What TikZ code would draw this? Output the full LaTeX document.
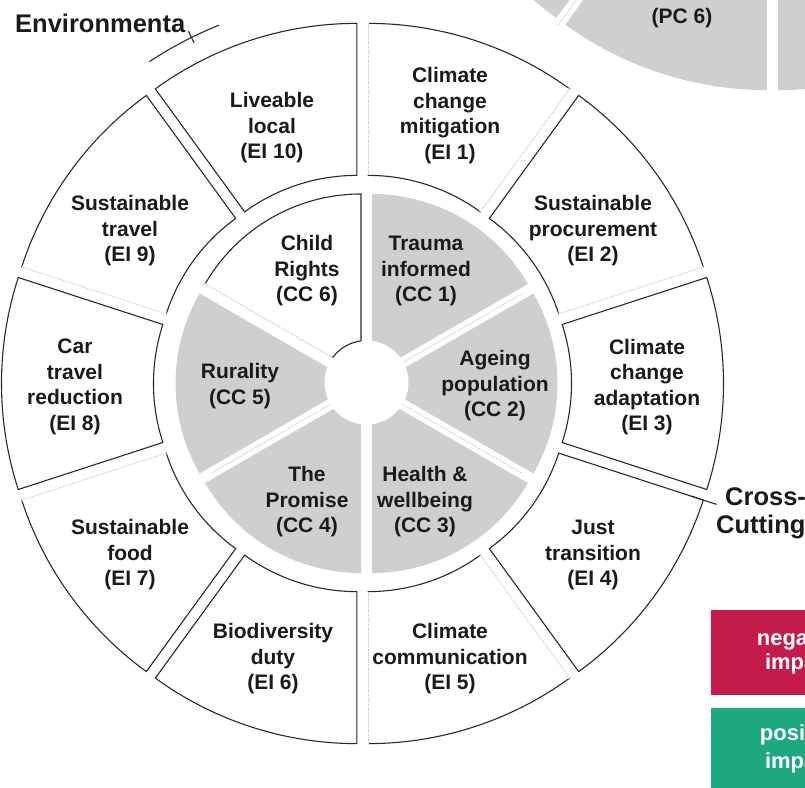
\documentclass[tikz,border=0pt]{standalone}
\usepackage{fontspec}
\setmainfont{Liberation Sans}
\definecolor{seggray}{HTML}{CFCFCF}
\definecolor{edgedark}{HTML}{2A2A2A}
\definecolor{txtdark}{HTML}{1A1A1A}
\definecolor{faintgray}{HTML}{C4C4C4}
\definecolor{negred}{HTML}{C51B4B}
\definecolor{posgreen}{HTML}{1EA880}
% annular sector: #1 options, #2 start angle, #3 end angle, #4 inner r, #5 outer r, #6 explode shift, #7 centre
\newcommand{\annsec}[7]{%
  \pgfmathsetmacro{\mybis}{(#2+#3)/2}%
  \path[#1, shift={(#7)}, shift={(\mybis:#6pt)}] (#2:#4pt) -- (#2:#5pt)
    arc[start angle=#2, end angle=#3, radius=#5pt] -- (#3:#4pt)
    arc[start angle=#3, end angle=#2, radius=#4pt] -- cycle;}
% radial edge: #1 options, #2 angle, #3 bisector, #4 r1, #5 r2, #6 shift, #7 centre
\newcommand{\radedge}[7]{%
  \draw[#1, shift={(#7)}, shift={(#3:#6pt)}] (#2:#4pt) -- (#2:#5pt);}
\tikzset{
  outerseg/.style={fill=white, draw=edgedark, line width=1.1pt},
  grayseg/.style={fill=seggray},
  faintedge/.style={draw=faintgray, line width=0.7pt, dash pattern=on 1.5pt off 1pt},
  eraseedge/.style={draw=white, line width=2.6pt},
  darkedge/.style={draw=edgedark, line width=1.1pt},
  lbl/.style={text=txtdark, font=\bfseries\fontsize{21}{25.5}\selectfont, align=center, inner sep=0pt},
  catlbl/.style={text=txtdark, font=\bfseries\fontsize{25.5}{28}\selectfont, inner sep=0pt},
  boxtxt/.style={text=white, font=\bfseries\fontsize{22}{24}\selectfont, inner sep=0pt},
}
\begin{document}
\begin{tikzpicture}[x=1pt, y=1pt]
\useasboundingbox (-362.5,-403.5) rectangle (442.5,383.5);
\clip (-362.5,-403.5) rectangle (442.5,383.5);
% --- partial ring at top right (PC sectors)
\annsec{grayseg}{198}{234}{191}{343}{18}{410,653.5}
\annsec{grayseg}{234}{270}{191}{343}{18}{410,653.5}
\annsec{grayseg}{270}{306}{191}{343}{18}{410,653.5}
\radedge{faintedge}{234}{0}{191}{365}{0}{410,653.5}
\node[lbl, anchor=base] (pc6) at (319.5,359.5) {(PC 6)};
% --- outer ring (EI)
\annsec{outerseg}{90}{54}{191}{343}{18}{0,0}
\annsec{outerseg}{54}{18}{191}{343}{18}{0,0}
\annsec{outerseg}{18}{-18}{191}{343}{18}{0,0}
\annsec{outerseg}{-18}{-54}{191}{343}{18}{0,0}
\annsec{outerseg}{-54}{-90}{191}{343}{18}{0,0}
\annsec{outerseg}{-90}{-126}{191}{343}{18}{0,0}
\annsec{outerseg}{-126}{-162}{191}{343}{18}{0,0}
\annsec{outerseg}{-162}{-198}{191}{343}{18}{0,0}
\annsec{outerseg}{162}{126}{191}{343}{18}{0,0}
\annsec{outerseg}{126}{90}{191}{343}{18}{0,0}
% faint edges
\radedge{eraseedge}{90}{72}{191}{343}{18}{0,0}
\radedge{faintedge}{90}{72}{191}{343}{18}{0,0}
\radedge{eraseedge}{54}{72}{191}{343}{18}{0,0}
\radedge{faintedge}{54}{72}{191}{343}{18}{0,0}
\radedge{eraseedge}{18}{36}{191}{343}{18}{0,0}
\radedge{faintedge}{18}{36}{191}{343}{18}{0,0}
\radedge{eraseedge}{-54}{-72}{191}{343}{18}{0,0}
\radedge{faintedge}{-54}{-72}{191}{343}{18}{0,0}
\radedge{eraseedge}{-90}{-72}{191}{343}{18}{0,0}
\radedge{faintedge}{-90}{-72}{191}{343}{18}{0,0}
\radedge{eraseedge}{-162}{-144}{191}{343}{18}{0,0}
\radedge{faintedge}{-162}{-144}{191}{343}{18}{0,0}
\radedge{eraseedge}{162}{144}{191}{343}{18}{0,0}
\radedge{faintedge}{162}{144}{191}{343}{18}{0,0}
% leader ticks
\radedge{darkedge}{-18}{-36}{330}{357}{18}{0,0}
\draw[darkedge] (123.5:386pt) arc[start angle=123.5, end angle=111.8, radius=386pt];
\draw[darkedge] (116.3:393pt) -- (116.3:380pt);
% --- inner ring (CC)
\annsec{grayseg}{90}{30}{1}{180}{11}{4,0}
\annsec{grayseg}{30}{-30}{1}{180}{11}{4,0}
\annsec{grayseg}{-30}{-90}{1}{180}{11}{4,0}
\annsec{grayseg}{-90}{-150}{1}{180}{11}{4,0}
\annsec{grayseg}{210}{150}{1}{180}{11}{4,0}
\annsec{outerseg}{150}{90}{1}{180}{11}{4,0}
\radedge{faintedge}{30}{0}{42}{180}{0}{4,0}
\radedge{faintedge}{-30}{0}{42}{180}{0}{4,0}
\radedge{faintedge}{-150}{0}{42}{180}{0}{4,0}
\radedge{eraseedge}{150}{120}{1}{180}{11}{4,0}
\radedge{faintedge}{150}{120}{1}{180}{11}{4,0}
\fill[white] (4,1) circle[radius=42pt];
\begin{scope}
  \annsec{clip}{150}{90}{1}{180}{11}{4,0}
  \draw[darkedge] (4,1) circle[radius=42pt];
\end{scope}
% --- labels outer ring
\node[lbl] (ei1) at (87.5,268) {Climate\\change\\mitigation\\(EI 1)};
\node[lbl] (ei2) at (230.5,152.5) {Sustainable\\procurement\\(EI 2)};
\node[lbl] (ei3) at (284.5,-3.5) {Climate\\change\\adaptation\\(EI 3)};
\node[lbl] (ei4) at (230.5,-171.5) {Just\\transition\\(EI 4)};
\node[lbl] (ei5) at (87.5,-275.5) {Climate\\communication\\(EI 5)};
\node[lbl] (ei6) at (-89.5,-275.5) {Biodiversity\\duty\\(EI 6)};
\node[lbl] (ei7) at (-232.5,-171.5) {Sustainable\\food\\(EI 7)};
\node[lbl] (ei8) at (-287.5,-3.5) {Car\\travel\\reduction\\(EI 8)};
\node[lbl] (ei9) at (-232.5,152.5) {Sustainable\\travel\\(EI 9)};
\node[lbl] (ei10) at (-90.5,255.5) {Liveable\\local\\(EI 10)};
% --- labels inner ring
\node[lbl] (cc1) at (63.5,112.5) {Trauma\\informed\\(CC 1)};
\node[lbl] (cc2) at (132.5,-2.5) {Ageing\\population\\(CC 2)};
\node[lbl] (cc3) at (62.5,-118.5) {Health \&\\wellbeing\\(CC 3)};
\node[lbl] (cc4) at (-55.5,-118.5) {The\\Promise\\(CC 4)};
\node[lbl] (cc5) at (-122.5,-2.5) {Rurality\\(CC 5)};
\node[lbl] (cc6) at (-55.5,112.5) {Child\\Rights\\(CC 6)};
% --- category labels
\node[catlbl, anchor=base west] (envlbl) at (-347.5,350.5) {Environmenta};
\node[catlbl, anchor=base west] (cross1) at (362.5,-121.5) {Cross-};
\node[catlbl, anchor=base west] (cross2) at (353.5,-149.5) {Cutting};
% --- legend boxes
\node[fill=negred, minimum width=182pt, minimum height=85pt, inner sep=0pt] (negbox) at (439.5,-269) {};
\node[fill=posgreen, minimum width=182pt, minimum height=85pt, inner sep=0pt] (posbox) at (439.5,-367) {};
\node[boxtxt, anchor=base] (neg1) at (439,-261.5) {negative};
\node[boxtxt, anchor=base] (neg2) at (438,-285.5) {impact};
\node[boxtxt, anchor=base] (pos1) at (439,-356.5) {positive};
\node[boxtxt, anchor=base] (pos2) at (438,-384.5) {impact};
\end{tikzpicture}
\end{document}
